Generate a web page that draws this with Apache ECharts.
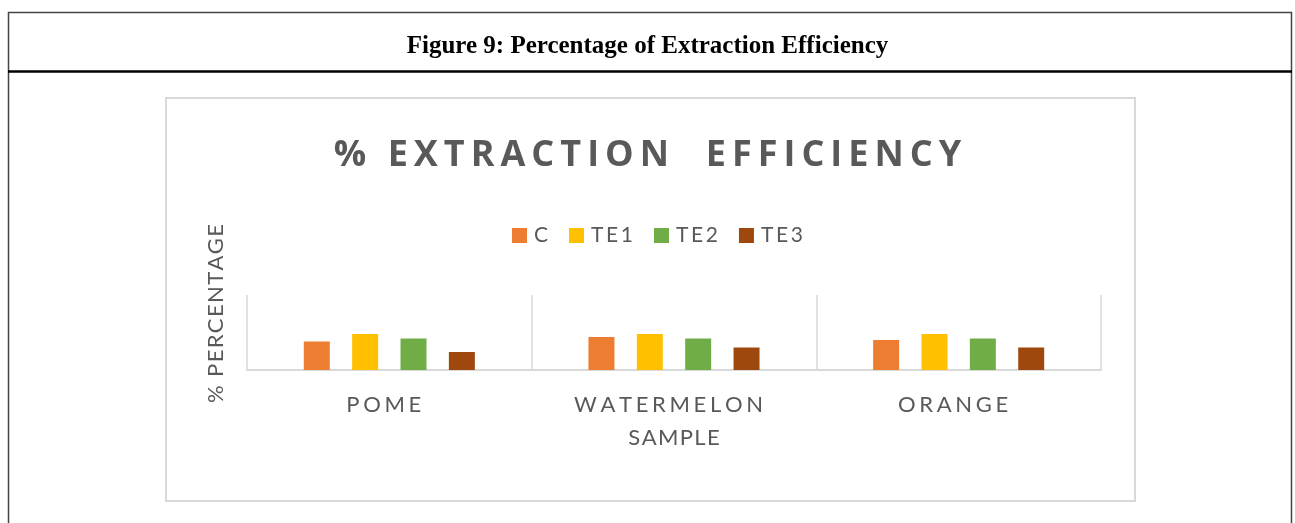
<!DOCTYPE html>
<html>
<head>
<meta charset="utf-8">
<title>Figure 9</title>
<script src="https://cdn.jsdelivr.net/npm/echarts@6/dist/echarts.min.js"></script>
<style>
  body { margin: 0; background: #fff; }
  #main { width: 1295px; height: 523px; }
</style>
</head>
<body>
<div id="main"></div>
<script>
// data
var samples = ['POME', 'WATERMELON', 'ORANGE'];
var seriesNames = ['C', 'TE1', 'TE2', 'TE3'];
var cValues = [38, 44, 40];
var te1Values = [48, 48, 48];
var te2Values = [42, 42, 42];
var te3Values = [24, 30, 30];
var colors = ['#ED7D31', '#FFC000', '#70AD47', '#9E480E'];

// spread letters out like the excel style does
function spaced(s, sp) {
    return s.split('').join(sp);
}

var dom = document.getElementById('main');
var myChart = echarts.init(dom);

var gray = '#595959';
var allValues = [cValues, te1Values, te2Values, te3Values];
var series = [];
for (var i = 0; i < seriesNames.length; i++) {
    series.push({
        name: seriesNames[i],
        type: 'bar',
        data: allValues[i],
        barWidth: 26,
        barGap: '86%',
        itemStyle: { color: colors[i] }
    });
}

var option = {
    animation: false,
    color: colors,
    title: [{
        text: 'Figure 9: Percentage of Extraction Efficiency',
        left: 'center',
        top: 34,
        padding: 0,
        textStyle: {
            fontFamily: 'Liberation Serif',
            fontWeight: 'bold',
            fontSize: 25,
            color: '#000'
        }
    }, {
        text: spaced('% EXTRACTION  EFFICIENCY', '\u2006'),
        left: 'center',
        top: 138,
        padding: 0,
        textStyle: {
            fontFamily: 'Open Sans',
            fontWeight: 'bold',
            fontSize: 36,
            color: gray
        }
    }],
    graphic: [{
        type: 'rect',
        shape: { x: 8.5, y: 12.5, width: 1283, height: 530 },
        style: { fill: null, stroke: '#444', lineWidth: 1.5 }
    }, {
        type: 'line',
        shape: { x1: 8, y1: 71.5, x2: 1292, y2: 71.5 },
        style: { stroke: '#000', lineWidth: 2.5 }
    }, {
        type: 'rect',
        shape: { x: 166, y: 98, width: 969, height: 403 },
        style: { fill: null, stroke: '#d9d9d9', lineWidth: 2 }
    }],
    legend: {
        data: seriesNames,
        left: 512,
        top: 225,
        padding: 0,
        icon: 'rect',
        itemWidth: 15,
        itemHeight: 15,
        itemGap: 21,
        formatter: function (name) { return spaced(name, '\u2009'); },
        textStyle: {
            fontFamily: 'Lato',
            fontSize: 21,
            color: gray,
            padding: [0, 0, 0, 2]
        }
    },
    grid: {
        left: 247,
        right: 194,
        top: 295,
        bottom: 153
    },
    xAxis: {
        type: 'category',
        data: samples,
        name: spaced('SAMPLE', '\u200A'),
        nameLocation: 'middle',
        nameGap: 57,
        nameTextStyle: {
            fontFamily: 'Lato',
            fontSize: 22,
            color: gray
        },
        axisLine: { lineStyle: { color: '#d9d9d9', width: 2 } },
        axisTick: { show: false },
        splitLine: { show: true, lineStyle: { color: '#d9d9d9', width: 1.5 } },
        axisLabel: {
            margin: 24,
            fontFamily: 'Lato',
            fontSize: 22,
            color: gray,
            // trailing space mimics excel's spacing after the last letter
            formatter: function (v) { return spaced(v, '\u2006') + '\u2002'; }
        }
    },
    yAxis: {
        type: 'value',
        min: 0,
        max: 100,
        name: spaced('% PERCENTAGE', '\u200A'),
        nameLocation: 'middle',
        nameRotate: 90,
        nameGap: 20,
        nameTextStyle: {
            fontFamily: 'Lato',
            fontSize: 22,
            color: gray,
            padding: [0, 0, 0, 38]
        },
        axisLine: { show: false },
        axisTick: { show: false },
        axisLabel: { show: false },
        splitLine: { show: false }
    },
    series: series
};

if (option && typeof option === 'object') {
    myChart.setOption(option, true);
}
</script>
</body>
</html>
